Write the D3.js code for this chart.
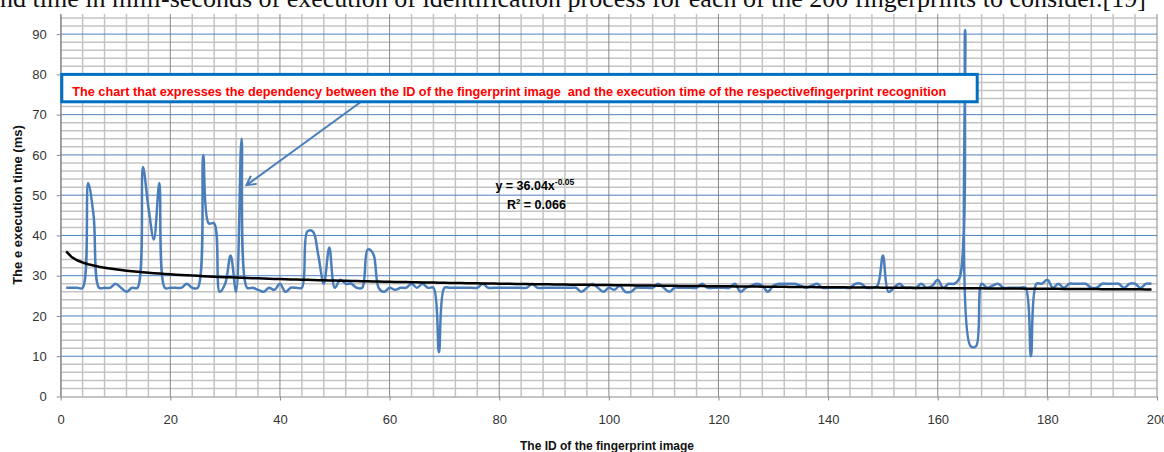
<!DOCTYPE html>
<html>
<head>
<meta charset="utf-8">
<script src="https://cdn.jsdelivr.net/npm/d3@7"></script>
<style>
body { margin: 0; background: #fff; }
svg { display: block; }
text { font-family: "Liberation Sans", Arial, sans-serif; }
</style>
</head>
<body>
<svg id="chart" width="1164" height="452"></svg>
<script>
// execution time (ms) for fingerprint ids 1..199
var times = [
	27, 27, 27, 27, 53, 45, 27, 27, 27, 28,
	27, 26, 27, 27, 57, 47, 39, 53, 27, 27,
	27, 27, 28, 27, 27, 60, 43, 43, 26, 28,
	35, 26, 64, 27, 27, 26.5, 26, 27, 26.5, 28,
	26, 27, 27, 27, 41, 41, 35, 28, 37, 27,
	29, 28, 28, 27, 27, 36.5, 35.5, 27, 26, 27,
	26.5, 27, 27, 28, 27, 28, 27, 27, 11, 27,
	27, 27, 27, 27, 27, 27, 28, 27, 27, 27,
	27, 27, 27, 27, 27, 28, 27, 27, 27, 27,
	27, 27, 27, 27, 26, 27, 28, 27, 26, 27,
	26.5, 27.5, 26, 26, 27, 27, 27, 27, 28, 27,
	26, 27, 27, 27, 27, 27, 28, 27, 27, 27,
	27, 27, 28, 26, 27, 27.5, 28, 27.5, 26, 27.5,
	28, 28, 28, 28, 27.5, 27, 27.5, 28, 27, 27,
	27, 27, 27, 27, 28, 28, 27, 27, 27.5, 35,
	26, 27, 28, 27, 27, 27, 28, 27, 27.5, 29,
	27, 28, 28, 29.5, 91, 12.5, 12.5, 28, 27, 27.5,
	28, 27, 27, 27, 27, 27, 10, 28, 28, 29,
	27, 28, 27, 28, 28, 28, 28, 27, 27, 28,
	28, 28, 28, 27, 28, 28, 27, 28, 28
];
var ids = times.map(function (d, i) { return i + 1; });

var xTicks = [0, 20, 40, 60, 80, 100, 120, 140, 160, 180, 200];
var yTicks = [0, 10, 20, 30, 40, 50, 60, 70, 80, 90];

// power trendline: drawn exponent, label as printed
var trendCoef = 36.04, trendExp = -0.0574;
var trendCoefLabel = '36.04', trendExpLabel = '-0.05', trendR2 = '0.066';

var xTitle = 'The ID of the fingerprint image';
var yTitle = 'The e execution time (ms)';
var note = 'The chart that expresses the dependency between the ID of the fingerprint image  and the execution time of the respectivefingerprint recognition';
var caption = 'nd time in milli-seconds of execution of identification process for each of the 200 fingerprints to consider.[19]';

(function () {
	var svg = d3.select('#chart'),
		pl = 60.7, pr = 1157, pt = 14, pb = 396.5;

	var x = d3.scaleLinear().domain([0, 200]).range([pl, pr]);
	var y = d3.scaleLinear().domain([0, 95]).range([pb, pt]);

	// page text above the chart, cut off by the crop
	svg.append('text')
		.attr('x', 0).attr('y', 7)
		.style('font-family', '"Liberation Serif", "Times New Roman", serif')
		.style('font-size', '26px')
		.style('fill', '#111')
		.text(caption);

	// grid
	var grid = svg.append('g');
	grid.selectAll('.vminor').data(d3.range(0, 201, 4).filter(function (d) { return d % 20 !== 0; }))
		.enter().append('line')
		.attr('x1', x).attr('x2', x).attr('y1', pt).attr('y2', pb)
		.style('stroke', '#c4c4c4').style('stroke-width', 1.5);
	grid.selectAll('.hminor').data(d3.range(2, 95, 2).filter(function (d) { return d % 10 !== 0; }))
		.enter().append('line')
		.attr('x1', pl).attr('x2', pr).attr('y1', y).attr('y2', y)
		.style('stroke', '#c4c4c4').style('stroke-width', 1.5);
	grid.selectAll('.vmajor').data(xTicks)
		.enter().append('line')
		.attr('x1', x).attr('x2', x).attr('y1', pt).attr('y2', pb)
		.style('stroke', '#8a8a8a').style('stroke-width', 1);
	grid.selectAll('.hmajor').data(yTicks.slice(1))
		.enter().append('line')
		.attr('x1', pl).attr('x2', pr).attr('y1', y).attr('y2', y)
		.style('stroke', '#4f81bd').style('stroke-width', 1);

	// axes
	var xAxis = svg.append('g').attr('transform', 'translate(0,' + pb + ')')
		.call(d3.axisBottom(x).tickValues(xTicks).tickSize(4).tickSizeOuter(0).tickPadding(14));
	var yAxis = svg.append('g').attr('transform', 'translate(' + pl + ',0)')
		.call(d3.axisLeft(y).tickValues(yTicks).tickSize(4).tickSizeOuter(0).tickPadding(10));
	[xAxis, yAxis].forEach(function (a) {
		a.select('.domain').style('stroke', '#8a8a8a');
		a.selectAll('.tick line').style('stroke', '#8a8a8a');
		a.selectAll('.tick text').style('font-size', '13px').style('fill', '#333')
			.style('font-family', '"Liberation Sans", Arial, sans-serif');
	});

	// series
	var line = d3.line()
		.x(function (d, i) { return x(ids[i]); })
		.y(function (d) { return y(d); })
		.curve(d3.curveCatmullRom.alpha(0.5));
	svg.append('path').datum(times)
		.attr('d', line)
		.style('fill', 'none').style('stroke', '#4a7ebb').style('stroke-width', 2.5);

	// trendline
	var trend = ids.map(function (id) { return trendCoef * Math.pow(id, trendExp); });
	svg.append('path').datum(trend)
		.attr('d', d3.line().x(function (d, i) { return x(ids[i]); }).y(function (d) { return y(d); }))
		.style('fill', 'none').style('stroke', '#000').style('stroke-width', 2.5);

	// equation
	var eq = svg.append('text').attr('x', x(79.3)).attr('y', y(51.3))
		.style('font-size', '12.5px').style('font-weight', 'bold');
	eq.append('tspan').text('y = ' + trendCoefLabel + 'x');
	eq.append('tspan').attr('dy', -5).style('font-size', '8.5px').text(trendExpLabel);
	var r2 = svg.append('text').attr('x', x(81.4)).attr('y', y(46.5))
		.style('font-size', '12.5px').style('font-weight', 'bold');
	r2.append('tspan').text('R');
	r2.append('tspan').attr('dy', -5).style('font-size', '8px').text('2');
	r2.append('tspan').attr('dy', 5).text(' = ' + trendR2);

	// annotation box and arrow
	svg.append('defs').append('marker')
		.attr('id', 'open').attr('viewBox', '-10 -6 12 12')
		.attr('markerWidth', 12).attr('markerHeight', 12).attr('orient', 'auto')
		.attr('markerUnits', 'userSpaceOnUse')
		.append('path').attr('d', 'M-9,-5L0,0L-9,5')
		.style('fill', 'none').style('stroke', '#4a7ebb').style('stroke-width', 2);
	svg.append('line')
		.attr('x1', x(54.8)).attr('y1', y(73.2)).attr('x2', x(33.9)).attr('y2', y(52.5))
		.attr('marker-end', 'url(#open)')
		.style('stroke', '#4a7ebb').style('stroke-width', 2);
	svg.append('rect')
		.attr('x', x(0.2)).attr('y', y(80)).attr('width', x(167.2) - x(0.2)).attr('height', y(73.2) - y(80))
		.style('fill', '#fff').style('stroke', '#0070c0').style('stroke-width', 3);
	svg.append('text')
		.attr('x', x(2.1)).attr('y', y(74.7))
		.attr('textLength', 874).attr('lengthAdjust', 'spacingAndGlyphs')
		.style('font-size', '12.5px').style('font-weight', 'bold').style('fill', '#ff0000')
		.style('white-space', 'pre')
		.text(note);

	// axis titles
	svg.append('text')
		.attr('x', 607).attr('y', 450)
		.attr('text-anchor', 'middle')
		.style('font-size', '12px').style('font-weight', 'bold').style('fill', '#111')
		.text(xTitle);
	svg.append('text')
		.attr('transform', 'translate(22,205) rotate(-90)')
		.attr('text-anchor', 'middle')
		.style('font-size', '13px').style('font-weight', 'bold').style('fill', '#111')
		.text(yTitle);
})();
</script>
</body>
</html>
